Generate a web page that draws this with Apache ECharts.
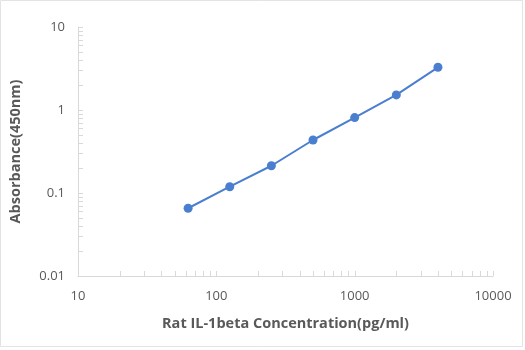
<!DOCTYPE html>
<html><head><meta charset="utf-8">
<script src="https://cdn.jsdelivr.net/npm/echarts@6/dist/echarts.min.js"></script>
<style>html,body{margin:0;padding:0;background:#fff}#c{width:525px;height:350px}</style>
</head><body><div id="c"></div>
<script>
const concentrations = [62.5, 125, 250, 500, 1000, 2000, 4000];
const absorbance = [0.0655, 0.119, 0.213, 0.435, 0.81, 1.52, 3.27];
const xName = 'Rat IL-1beta Concentration(pg/ml)';
const yName = 'Absorbance(450nm)';
const xMin = 10, xMax = 10000, yMin = 0.01, yMax = 10;

const data = concentrations.map((c, i) => [c, absorbance[i]]);
function logTicks(lo, hi) {
  const out = [];
  for (let d = lo; d < hi * 0.999; d *= 10) {
    for (let k = 1; k <= 9; k++) out.push([+(d * k).toPrecision(6)]);
  }
  out.push([hi]);
  return out;
}
const xTicks = logTicks(xMin, xMax);
const yTicks = logTicks(yMin, yMax);
const tickColor = '#d9d9d9';
const chart = echarts.init(document.getElementById('c'), null, {renderer: 'canvas'});
const font = '"Open Sans", sans-serif';
chart.setOption({
  animation: false,
  backgroundColor: '#fff',
  graphic: [{type: 'rect', shape: {x: 0.5, y: 0.5, width: 522, height: 346}, style: {fill: 'none', stroke: '#e3e3e3', lineWidth: 1}, silent: true}],
  grid: {left: 76, right: 32, top: 27, bottom: 74},
  xAxis: {
    type: 'log', min: xMin, max: xMax, logBase: 10,
    name: xName, nameLocation: 'middle', nameGap: 40,
    nameTextStyle: {color: '#595959', fontSize: 14.5, fontWeight: 'bold', fontFamily: font},
    axisLine: {lineStyle: {color: tickColor, width: 1}},
    axisTick: {show: false},
    minorTick: {show: false},
    axisLabel: {color: '#595959', fontSize: 13, fontFamily: font, margin: 14, formatter: v => String(v)},
    splitLine: {show: false}
  },
  yAxis: {
    type: 'log', min: yMin, max: yMax, logBase: 10,
    name: yName, nameLocation: 'middle', nameGap: 55,
    nameTextStyle: {color: '#595959', fontSize: 14.5, fontWeight: 'bold', fontFamily: font},
    axisLine: {show: true, lineStyle: {color: tickColor, width: 1}},
    axisTick: {show: false},
    minorTick: {show: false},
    axisLabel: {color: '#595959', fontSize: 13, fontFamily: font, margin: 13, formatter: v => String(+v.toPrecision(6))},
    splitLine: {show: false}
  },
  series: [
    {
      type: 'custom', silent: true, z: 1, clip: false, data: xTicks,
      renderItem: (params, api) => {
        const p = api.coord([api.value(0), yMin]);
        const x = Math.round(p[0]) + 0.5;
        return {type: 'line', shape: {x1: x, y1: p[1], x2: x, y2: p[1] - 5}, style: {stroke: tickColor, lineWidth: 1}};
      }
    },
    {
      type: 'custom', silent: true, z: 1, clip: false, data: yTicks,
      renderItem: (params, api) => {
        const p = api.coord([xMin, api.value(0)]);
        const y = Math.round(p[1]) + 0.5;
        return {type: 'line', shape: {x1: p[0], y1: y, x2: p[0] + 5, y2: y}, style: {stroke: tickColor, lineWidth: 1}};
      }
    },
    {
      type: 'line', data: data, z: 3,
      symbol: 'circle', symbolSize: 9,
      lineStyle: {color: '#4a7fcf', width: 2},
      itemStyle: {color: '#4a7fcf'}
    }
  ]
});
</script></body></html>
